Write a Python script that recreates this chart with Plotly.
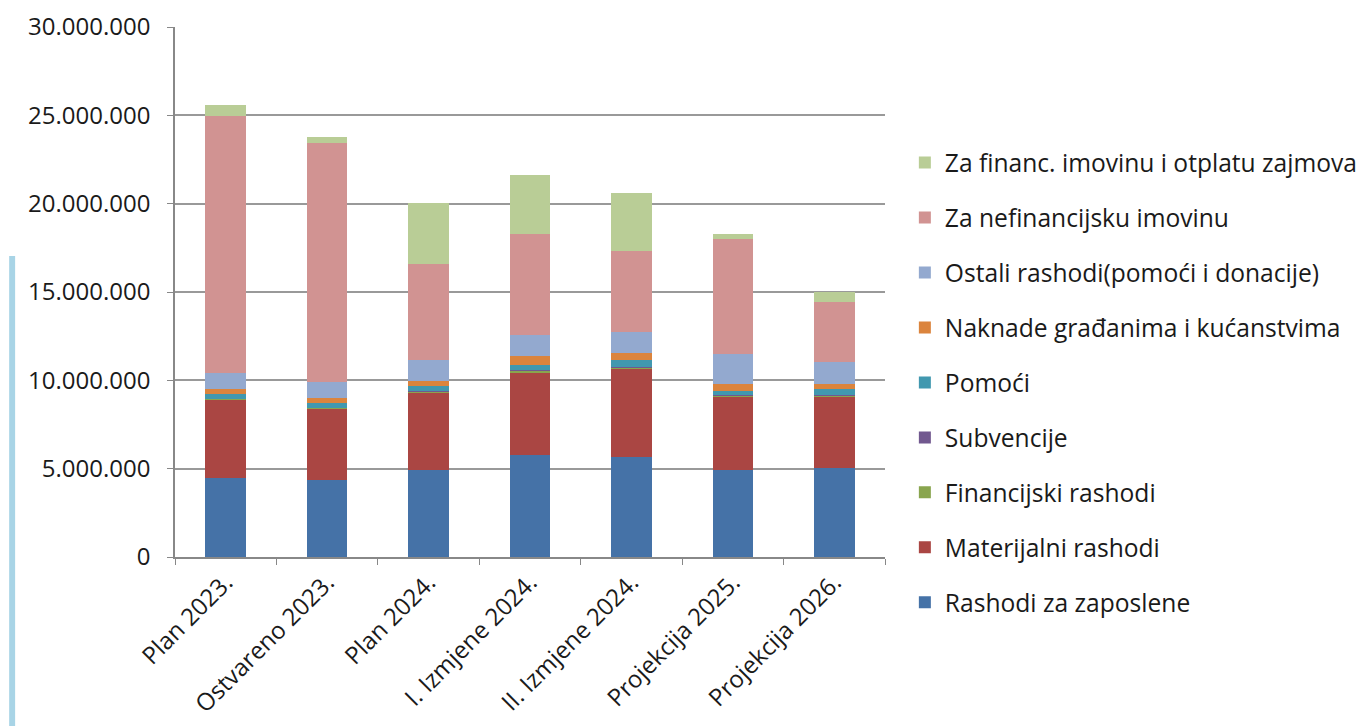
import plotly.graph_objects as go

categories = ["Plan 2023.", "Ostvareno 2023.", "Plan 2024.", "I. Izmjene 2024.",
              "II. Izmjene 2024.", "Projekcija 2025.", "Projekcija 2026."]

series_names = ["Rashodi za zaposlene", "Materijalni rashodi", "Financijski rashodi",
                "Subvencije", "Pomoći", "Naknade građanima i kućanstvima",
                "Ostali rashodi(pomoći i donacije)", "Za nefinancijsku imovinu",
                "Za financ. imovinu i otplatu zajmova"]

rashodi_zaposlene = [4450000, 4360000, 4950000, 5750000, 5640000, 4950000, 5050000]
materijalni = [4450000, 4040000, 4340000, 4710000, 5030000, 4160000, 4040000]
financijski = [50000, 40000, 80000, 80000, 70000, 30000, 70000]
subvencije = [20000, 20000, 20000, 20000, 20000, 20000, 20000]
pomoci = [230000, 240000, 290000, 320000, 400000, 230000, 320000]
naknade = [300000, 300000, 300000, 500000, 400000, 400000, 320000]
ostali = [890000, 900000, 1190000, 1170000, 1180000, 1680000, 1240000]
nefinancijska = [14600000, 13530000, 5420000, 5720000, 4560000, 6520000, 3350000]
financ_imovina = [580000, 370000, 3470000, 3370000, 3330000, 280000, 600000]

series_values = [rashodi_zaposlene, materijalni, financijski, subvencije, pomoci,
                 naknade, ostali, nefinancijska, financ_imovina]

colors = ["#4572A7", "#AA4643", "#89A54E", "#71588F", "#4198AF", "#DB843D",
          "#93A9CF", "#D19392", "#B9CD96"]

y_ticks = [0, 5000000, 10000000, 15000000, 20000000, 25000000, 30000000]

fig = go.Figure()
n = len(series_names)
for i, (name, vals, col) in enumerate(zip(series_names, series_values, colors)):
    fig.add_trace(go.Bar(x=categories, y=vals, name=name, legendgroup=name,
                         legendrank=n - i,
                         marker=dict(color=col, line=dict(width=0))))

FONT = "Open Sans"
TICK_FS = 24
LEG_FS = 24.6
W, H = 1367, 718
ML, MR, MT, MB = 167, 485, 19, 169
PW = W - ML - MR
PH = H - MT - MB
fig.update_layout(
    barmode="stack",
    bargap=0.6,
    width=W, height=H,
    margin=dict(l=ML, r=MR, t=MT, b=MB),
    plot_bgcolor="white", paper_bgcolor="white",
    separators=",.",
    font=dict(family=FONT, size=TICK_FS, color="#1a1a1a"),
    legend=dict(traceorder="grouped", tracegroupgap=20,
                x=(902 - ML) / PW, xanchor="left", y=1 - (132 - MT) / PH, yanchor="top",
                font=dict(family=FONT, size=LEG_FS, color="#1a1a1a"),
                itemwidth=30),
    xaxis=dict(showline=True, linecolor="#888888", linewidth=1.5,
               ticks="outside", tickson="boundaries", ticklen=6, tickcolor="#888888",
               tickangle=-45, tickfont=dict(family=FONT, size=TICK_FS), automargin=False,
               ticklabeloverflow="allow"),
    yaxis=dict(range=[0, 30000000], tickvals=y_ticks, tickformat=",d",
               showline=True, linecolor="#888888", linewidth=1.5,
               showgrid=True, gridcolor="#999999", gridwidth=1.5,
               ticks="outside", ticklen=6, tickcolor="#888888", ticklabelstandoff=12,
               ticklabeloverflow="allow",
               tickfont=dict(family=FONT, size=TICK_FS), zeroline=False, automargin=False),
    shapes=[dict(type="rect", xref="paper", yref="paper",
                 x0=-ML / PW, x1=(-ML + 6) / PW, y0=-MB / PH, y1=(PH - (256 - 8 - MT)) / PH,
                 fillcolor="#a8d4e6", line=dict(width=0), layer="below")],
)

fig.write_html("out.html")
